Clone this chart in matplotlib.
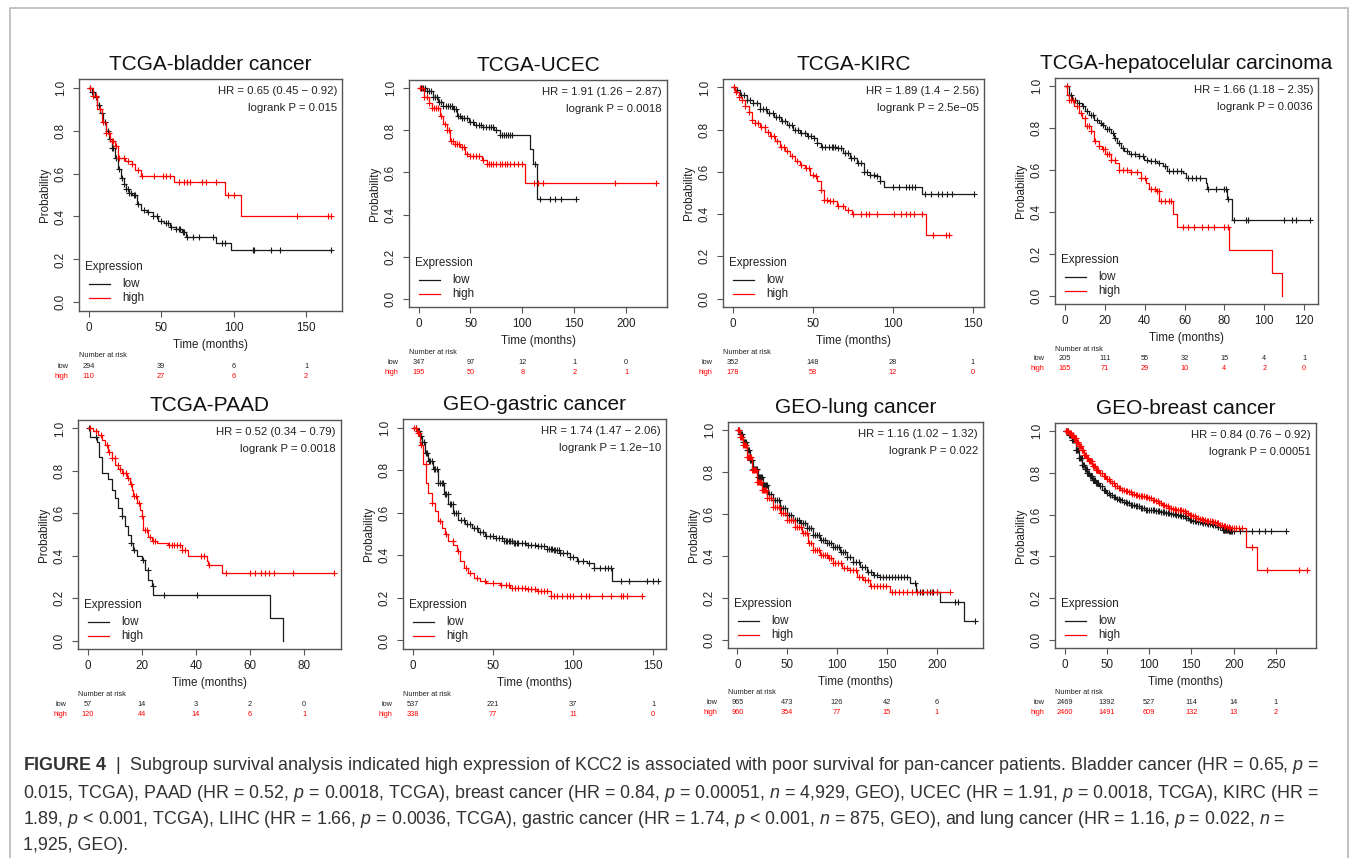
import numpy as np
import matplotlib
matplotlib.use('Agg')
import matplotlib.pyplot as plt
from matplotlib.transforms import blended_transform_factory
from matplotlib.lines import Line2D

plt.rcParams['font.family'] = ['Liberation Sans', 'DejaVu Sans']
plt.rcParams['mathtext.fontset'] = 'custom'
plt.rcParams['mathtext.rm'] = 'Liberation Sans'
plt.rcParams['mathtext.it'] = 'Liberation Sans:italic'
plt.rcParams['mathtext.bf'] = 'Liberation Sans:bold'

# ---------------- data ----------------
titles = ['TCGA-bladder cancer', 'TCGA-UCEC', 'TCGA-KIRC', 'TCGA-hepatocelular carcinoma',
          'TCGA-PAAD', 'GEO-gastric cancer', 'GEO-lung cancer', 'GEO-breast cancer']
hr_labels = ['HR = 0.65 (0.45 \u2212 0.92)', 'HR = 1.91 (1.26 \u2212 2.87)', 'HR = 1.89 (1.4 \u2212 2.56)',
             'HR = 1.66 (1.18 \u2212 2.35)', 'HR = 0.52 (0.34 \u2212 0.79)', 'HR = 1.74 (1.47 \u2212 2.06)',
             'HR = 1.16 (1.02 \u2212 1.32)', 'HR = 0.84 (0.76 \u2212 0.92)']
p_labels = ['logrank P = 0.015', 'logrank P = 0.0018', 'logrank P = 2.5e\u221205', 'logrank P = 0.0036',
            'logrank P = 0.0018', 'logrank P = 1.2e\u221210', 'logrank P = 0.022', 'logrank P = 0.00051']
t_max = [168, 230, 151, 122, 90, 152, 237, 286]

bladder_ticks = [0, 50, 100, 150]
ucec_ticks = [0, 50, 100, 150, 200]
kirc_ticks = [0, 50, 100, 150]
lihc_ticks = [0, 20, 40, 60, 80, 100, 120]
paad_ticks = [0, 20, 40, 60, 80]
gastric_ticks = [0, 50, 100, 150]
lung_ticks = [0, 50, 100, 150, 200]
breast_ticks = [0, 50, 100, 150, 200, 250]

# numbers at risk
bladder_risk_low = [294, 39, 6, 1]
bladder_risk_high = [110, 27, 6, 2]
ucec_risk_low = [347, 97, 12, 1, 0]
ucec_risk_high = [195, 50, 8, 2, 1]
kirc_risk_low = [352, 148, 28, 1]
kirc_risk_high = [178, 58, 12, 0]
lihc_risk_low = [205, 111, 55, 32, 15, 4, 1]
lihc_risk_high = [165, 71, 29, 10, 4, 2, 0]
paad_risk_low = [57, 14, 3, 2, 0]
paad_risk_high = [120, 44, 14, 6, 1]
gastric_risk_low = [537, 221, 37, 1]
gastric_risk_high = [338, 77, 11, 0]
lung_risk_low = [965, 473, 126, 42, 6]
lung_risk_high = [960, 354, 77, 15, 1]
breast_risk_low = [2469, 1392, 527, 114, 14, 1]
breast_risk_high = [2460, 1491, 609, 132, 13, 2]

# KM steps: time of drop / survival after drop, and censor times
bladder_low_t = [0, 2, 4, 6, 8, 10, 12, 14, 16, 18, 20, 22, 24, 26, 28, 30, 33, 36, 40, 44, 48, 52, 56, 60, 64, 67, 88, 98]
bladder_low_s = [1, .98, .955, .92, .88, .84, .80, .76, .72, .67, .62, .58, .55, .53, .51, .50, .46, .43, .42, .40, .38, .37, .35, .34, .33, .305, .275, .243]
bladder_low_c = [1, 2, 3, 5, 7, 9, 11, 13, 15, 16, 17, 19, 21, 23, 24, 26, 27, 28, 29, 31, 32, 34, 38, 41, 44, 47, 50, 53,
                 55, 57, 60, 62, 63, 65, 66, 68, 72, 76, 86, 92, 94, 113, 114, 126, 132, 167]
bladder_high_t = [0, 3, 6, 9, 12, 15, 18, 20.5, 25, 29.5, 32, 36, 59, 94, 105]
bladder_high_s = [1, .96, .90, .84, .79, .75, .73, .67, .66, .645, .615, .59, .56, .50, .40]
bladder_high_c = [1, 3, 5, 8, 10, 12, 14, 16, 17, 19, 21, 24, 27, 30, 34, 37, 45, 51, 53, 56, 62, 66, 68, 70, 78, 81, 88,
                  96, 100, 144, 165, 167]

ucec_low_t = [0, 8, 14, 19, 24, 33, 37, 41, 49, 53, 62, 73, 78, 107, 110, 113.6]
ucec_low_s = [1, .99, .96, .936, .916, .90, .87, .86, .84, .825, .817, .80, .777, .71, .64, .475]
ucec_low_c = [2, 4, 6, 8, 10, 12, 14, 16, 18, 20, 22, 24, 26, 28, 30, 32, 34, 36, 38, 40, 42, 44, 47, 50, 52, 55, 58, 60,
              62, 65, 68, 70, 72, 75, 78, 80, 82, 84, 86, 88, 90, 112, 117, 127, 131, 137, 152]
ucec_high_t = [0, 5, 9.6, 12.8, 21, 24, 27, 30.4, 33.6, 40, 45, 49.6, 61, 65.6, 102.4]
ucec_high_s = [1, .96, .93, .905, .87, .83, .80, .75, .735, .72, .69, .68, .66, .64, .55]
ucec_high_c = [1, 3, 5, 8, 10, 13, 15, 17, 19, 22, 25, 27, 29, 31, 33, 35, 37, 39, 42, 44, 47, 50, 52, 55, 58, 62, 66, 68,
               70, 72, 75, 78, 80, 83, 85, 88, 92, 96, 100, 111, 115, 120, 189, 229]

kirc_low_t = [0, 1.7, 4.8, 9, 13, 17, 21.5, 25.6, 30, 34, 38, 42, 46.5, 50.6, 52.7, 55, 65, 69, 73.5, 77.7, 82, 86, 90, 92, 94.4, 118.3]
kirc_low_s = [1, .99, .965, .94, .926, .90, .88, .86, .84, .82, .80, .784, .768, .76, .737, .72, .713, .69, .666, .642, .60, .587, .58, .555, .53, .495]
kirc_low_c = [1, 3, 5, 7, 9, 11, 13, 15, 17, 19, 21, 23, 25, 27, 29, 31, 33, 35, 37, 39, 41, 43, 45, 47, 49, 51, 53, 56,
              58, 60, 62, 63, 64, 66, 68, 70, 72, 74, 76, 78, 80, 82, 84, 86, 88, 90, 92, 100, 104, 108, 110, 112, 114,
              120, 124, 128, 131, 134, 137, 151]
kirc_high_t = [0, 1.7, 3.75, 5.8, 8, 10, 12, 14, 17.3, 20.4, 23.5, 26.7, 29.8, 33, 36, 39, 42.3, 45.4, 48.5, 51.7, 52.7,
               55, 57, 60, 65, 70.4, 74.6, 121]
kirc_high_s = [1, .98, .957, .94, .91, .886, .847, .83, .815, .79, .768, .744, .72, .697, .673, .65, .634, .618, .587, .58,
               .555, .516, .468, .46, .437, .42, .40, .30]
kirc_high_c = [1, 2, 4, 6, 8, 10, 12, 14, 16, 18, 20, 22, 24, 26, 28, 30, 32, 34, 37, 40, 43, 46, 48, 50, 52, 55, 57, 59,
               61, 63, 66, 69, 72, 75, 80, 83, 85, 90, 101, 105, 108, 111, 113, 118, 125, 133, 135]

lihc_low_t = [0, 2, 3.7, 6.2, 8.7, 10.4, 12, 14.6, 17, 18.7, 20.4, 23, 24.6, 26.3, 28, 29.6, 32, 37, 39.7, 42, 46.4, 49,
              51.4, 59, 60.6, 70.6, 71.5, 81.5, 84]
lihc_low_s = [1, .96, .937, .92, .905, .88, .865, .84, .825, .817, .794, .778, .754, .73, .706, .69, .675, .667, .65, .643,
              .635, .62, .595, .587, .563, .54, .51, .46, .36]
lihc_low_c = [1, 2, 3, 5, 7, 9, 11, 13, 14, 16, 18, 19, 21, 22, 24, 25, 27, 29, 31, 33, 35, 37, 39, 41, 43, 45, 47, 50,
              52, 54, 56, 58, 62, 64, 66, 68, 72, 76, 80, 81, 82, 85, 91, 92, 110, 114, 116, 123]
lihc_high_t = [0, 1.2, 2, 4.5, 7, 8.7, 10.4, 13, 14.6, 17, 18.7, 20.4, 23, 25.4, 27, 33, 38, 40.5, 42, 45.5, 47.2, 54,
               56.4, 82.3, 104, 108.8]
lihc_high_s = [1, .96, .937, .905, .873, .85, .81, .786, .738, .714, .70, .675, .65, .635, .60, .59, .56, .537, .508, .50,
               .452, .39, .33, .22, .11, 0]
lihc_high_c = [1, 2, 3, 4, 6, 8, 10, 11, 12, 13, 15, 17, 19, 20, 21, 22, 23, 25, 27, 29, 31, 33, 36, 38, 40, 43, 45, 46,
               47, 48, 50, 52, 53, 59, 62, 65, 69, 72, 75, 80, 82]

paad_low_t = [0, 0.9, 3.3, 4.3, 5.2, 7.6, 8.9, 10.1, 11.3, 12.6, 13.8, 15, 15.9, 16.9, 18.1, 20, 21.2, 22.4, 23.7, 24.3, 67.2, 72.1]
paad_low_s = [1, .96, .937, .867, .79, .76, .71, .67, .624, .585, .538, .498, .46, .428, .397, .38, .334, .287, .255, .216, .108, 0]
paad_low_c = [0.5, 3, 12.8, 15.9, 17, 20.5, 22.3, 24, 28, 40.5]
paad_high_t = [0, 2.1, 3.9, 5.2, 6.4, 7.6, 8.9, 10.1, 11.3, 12.6, 14.4, 15.7, 16.3, 16.9, 18.1, 19.4, 20, 20.6, 22.4, 23.7,
               25.5, 29.8, 34.8, 37.2, 44, 44.6, 49.6]
paad_high_s = [1, .99, .97, .945, .92, .89, .86, .83, .81, .79, .765, .74, .71, .68, .647, .616, .585, .52, .49, .467, .46,
               .45, .428, .397, .373, .357, .318]
paad_high_c = [1, 3, 5, 7, 8, 9, 10, 11, 12, 13, 14, 15, 16, 17, 18, 19, 20, 21, 22, 23, 24, 25, 30, 31, 32, 33, 34, 35,
               36, 42, 43, 45, 51, 60, 62, 64, 65.5, 67, 69, 76, 91]

gastric_low_t = [0, 2.5, 4.6, 5.6, 7.7, 9.8, 12.9, 16, 19.2, 22.3, 25.4, 28.5, 32.7, 36.9, 41, 45.2, 50.4, 56.7, 63, 71,
                 77.5, 83.7, 88, 92, 98, 102.5, 108.7, 113, 124.4]
gastric_low_s = [1, .985, .96, .93, .88, .843, .804, .74, .687, .64, .60, .567, .545, .53, .51, .49, .48, .467, .458, .45,
                 .444, .43, .425, .41, .39, .373, .365, .34, .277]
gastric_low_c = [2, 3, 4, 5, 6, 7, 8, 9, 10, 11, 12, 13, 14, 15, 16, 17, 18, 19, 20, 21, 22, 23, 24, 25, 26, 27, 28, 30,
                 32, 34, 36, 38, 40, 42, 44, 46, 48, 50, 52, 54, 56, 57, 58, 59, 60, 61, 62, 63, 64, 65, 66, 68, 70, 72,
                 74, 76, 78, 80, 82, 84, 85, 86, 87, 88, 89, 90, 91, 92, 94, 96, 98, 100, 103, 106, 110, 113, 117, 120,
                 122, 124, 130, 135, 146, 150, 153]
gastric_high_t = [0, 2.5, 4.6, 6.7, 8.3, 9.8, 11.9, 14, 16, 18.1, 20.2, 22.3, 25.4, 27.5, 29.6, 31.7, 34.8, 38.5, 42, 46,
                  54.6, 60.8, 71, 77.5, 86]
gastric_high_s = [1, .976, .92, .83, .74, .694, .647, .607, .56, .53, .50, .467, .45, .42, .373, .342, .318, .295, .279, .27,
                  .26, .248, .24, .232, .208]
gastric_high_c = [1, 2, 3, 4, 5, 8, 12, 17, 21, 25, 28, 33, 36, 40, 45, 50, 55, 58, 60, 62, 64, 66, 68, 70, 72, 74, 76, 78,
                  80, 82, 84, 86, 88, 90, 93, 96, 98, 100, 105, 108, 110, 118, 124, 130, 131, 134, 143]

lung_low_t = [0, 2.7, 6, 9.4, 12.7, 16, 21, 26, 31, 36, 42.8, 49.5, 56, 63, 69.6, 76, 83, 89.6, 96, 103, 110, 116, 123,
              130, 136.5, 143, 173, 179, 203, 227]
lung_low_s = [1, .984, .944, .905, .857, .817, .778, .738, .698, .667, .627, .595, .571, .556, .532, .50, .476, .46, .444,
              .42, .397, .373, .349, .325, .31, .30, .27, .229, .18, .09]
lung_low_c = [1, 2, 3, 4, 5, 6, 7, 8, 9, 10, 11, 12, 13, 14, 15, 16, 17, 18, 19, 20, 21, 22, 23, 24, 25, 26, 27, 28, 29,
              30, 32, 34, 36, 38, 40, 42, 44, 46, 48, 50, 52, 54, 56, 58, 60, 62, 64, 66, 68, 70, 72, 74, 76, 78, 80, 82,
              84, 86, 88, 90, 92, 94, 96, 98, 100, 102, 104, 106, 108, 110, 113, 116, 119, 122, 125, 128, 131, 134, 137,
              140, 143, 146, 149, 152, 155, 158, 161, 164, 167, 170, 178, 180, 183, 186, 190, 193, 196, 200, 218, 221, 238]
lung_high_t = [0, 2.7, 6, 9.4, 14.4, 19.4, 24.4, 29.4, 36, 42.8, 49.5, 58, 64.5, 71, 76, 83, 91, 96, 104.7, 113, 119.7,
               126.4, 133, 153]
lung_high_s = [1, .97, .93, .873, .81, .754, .714, .675, .635, .603, .571, .54, .508, .46, .43, .405, .389, .365, .34, .333,
               .30, .286, .254, .227]
lung_high_c = [1, 2, 3, 4, 5, 6, 7, 8, 9, 10, 11, 12, 13, 14, 15, 16, 17, 18, 19, 20, 21, 22, 23, 24, 25, 26, 27, 28, 29,
               30, 32, 34, 36, 38, 40, 42, 44, 46, 48, 50, 52, 54, 56, 58, 60, 62, 64, 66, 68, 70, 72, 74, 76, 78, 80, 82,
               84, 86, 88, 90, 92, 94, 96, 98, 101, 104, 107, 110, 113, 116, 119, 122, 125, 128, 131, 134, 137, 140, 143,
               146, 149, 155, 158, 162, 166, 170, 175, 180, 185, 190, 195, 200, 213]

breast_low_t = [0, 5, 9, 13, 17, 21, 24, 27, 30, 32.8, 36.5, 40.7, 44.5, 48.6, 52.5, 56.5, 60.5, 64.4, 68.3, 72.3, 78, 84,
                90, 96, 102, 107.8, 113.7, 119.7, 125.5, 131.5, 137, 143, 147, 151, 157, 163, 169, 175, 181, 187, 195]
breast_low_s = [1, .984, .96, .912, .872, .84, .82, .80, .784, .768, .752, .736, .72, .704, .694, .685, .677, .669, .662,
                .656, .648, .64, .632, .624, .62, .616, .612, .608, .604, .60, .592, .584, .576, .568, .564, .56, .556,
                .552, .54, .528, .52]
breast_low_c = [1, 2, 3, 4, 5, 6, 7, 8, 9, 10, 11, 12, 13, 14, 15, 16, 17, 18, 19, 20, 21, 22, 23, 24, 25, 26, 27, 28, 29,
                30, 31, 32, 33, 34, 35, 36, 37, 38, 39, 40, 42, 44, 46, 48, 50, 52, 54, 56, 58, 60, 62, 64, 66, 68, 70, 72,
                74, 76, 78, 80, 82, 84, 86, 88, 90, 92, 94, 96, 98, 100, 102, 104, 106, 108, 110, 112, 114, 116, 118, 120,
                122, 124, 126, 128, 130, 132, 134, 136, 138, 140, 142, 144, 146, 148, 150, 152, 154, 156, 158, 160, 162,
                164, 166, 168, 170, 172, 174, 176, 178, 180, 182, 184, 186, 187, 188, 189, 190, 191, 192, 193, 194, 195,
                196, 197, 198, 200, 208, 215, 222, 230, 237, 244, 262]
breast_high_t = [0, 5, 8, 11, 14, 17, 20, 23, 26, 29, 32.8, 36.7, 40.6, 44.6, 48.5, 52.5, 56, 60, 64, 68, 72, 76, 80, 84,
                 88, 92, 96, 100, 104, 108, 112, 115.7, 119.6, 123.6, 127.5, 131.5, 135, 139, 143, 147, 151, 155, 159,
                 163, 167, 171, 175, 179, 183, 187, 191, 195, 215, 228]
breast_high_s = [1, .992, .98, .968, .948, .928, .908, .888, .872, .856, .836, .816, .8, .784, .772, .76, .75, .739, .73,
                 .72, .713, .707, .701, .696, .692, .688, .684, .68, .672, .664, .656, .648, .64, .632, .628, .624, .62,
                 .616, .608, .60, .592, .584, .58, .576, .572, .568, .564, .56, .552, .544, .54, .536, .445, .333]
breast_high_c = [1, 2, 3, 4, 5, 6, 7, 8, 9, 10, 11, 12, 13, 14, 15, 16, 17, 18, 19, 20, 21, 22, 23, 24, 25, 26, 27, 28,
                 29, 30, 31, 32, 33, 34, 35, 36, 37, 38, 39, 40, 42, 44, 46, 48, 50, 52, 54, 56, 58, 60, 62, 64, 66, 68,
                 70, 72, 74, 76, 78, 80, 82, 84, 86, 88, 90, 92, 94, 96, 98, 100, 102, 104, 106, 108, 110, 112, 114, 116,
                 118, 120, 122, 124, 126, 128, 130, 132, 134, 136, 138, 140, 142, 144, 146, 148, 150, 152, 154, 156, 158,
                 160, 162, 164, 166, 168, 170, 172, 174, 176, 178, 180, 182, 184, 186, 188, 190, 192, 194, 196, 198, 200,
                 203, 206, 210, 222, 240, 277, 287]

caption_lines = [
    r'$\bf{FIGURE\ 4}$  |  Subgroup survival analysis indicated high expression of KCC2 is associated with poor survival for pan-cancer patients. Bladder cancer (HR = 0.65, $p$ =',
    r'0.015, TCGA), PAAD (HR = 0.52, $p$ = 0.0018, TCGA), breast cancer (HR = 0.84, $p$ = 0.00051, $n$ = 4,929, GEO), UCEC (HR = 1.91, $p$ = 0.0018, TCGA), KIRC (HR =',
    r'1.89, $p$ < 0.001, TCGA), LIHC (HR = 1.66, $p$ = 0.0036, TCGA), gastric cancer (HR = 1.74, $p$ < 0.001, $n$ = 875, GEO), and lung cancer (HR = 1.16, $p$ = 0.022, $n$ =',
    r'1,925, GEO).',
]

# ---------------- layout (pixels) ----------------
W, H = 1355, 858
boxes = [(79, 79, 342, 311), (409, 80, 667, 307), (723, 79, 984, 307), (1055, 78, 1318, 304),
         (78, 420, 341, 649), (403, 419, 666, 649), (728, 422, 983, 648), (1055, 423, 1316, 648)]

panels = [
    (bladder_ticks, (bladder_low_t, bladder_low_s, bladder_low_c), (bladder_high_t, bladder_high_s, bladder_high_c),
     bladder_risk_low, bladder_risk_high),
    (ucec_ticks, (ucec_low_t, ucec_low_s, ucec_low_c), (ucec_high_t, ucec_high_s, ucec_high_c),
     ucec_risk_low, ucec_risk_high),
    (kirc_ticks, (kirc_low_t, kirc_low_s, kirc_low_c), (kirc_high_t, kirc_high_s, kirc_high_c),
     kirc_risk_low, kirc_risk_high),
    (lihc_ticks, (lihc_low_t, lihc_low_s, lihc_low_c), (lihc_high_t, lihc_high_s, lihc_high_c),
     lihc_risk_low, lihc_risk_high),
    (paad_ticks, (paad_low_t, paad_low_s, paad_low_c), (paad_high_t, paad_high_s, paad_high_c),
     paad_risk_low, paad_risk_high),
    (gastric_ticks, (gastric_low_t, gastric_low_s, gastric_low_c), (gastric_high_t, gastric_high_s, gastric_high_c),
     gastric_risk_low, gastric_risk_high),
    (lung_ticks, (lung_low_t, lung_low_s, lung_low_c), (lung_high_t, lung_high_s, lung_high_c),
     lung_risk_low, lung_risk_high),
    (breast_ticks, (breast_low_t, breast_low_s, breast_low_c), (breast_high_t, breast_high_s, breast_high_c),
     breast_risk_low, breast_risk_high),
]

LOW_C = '#1a1a1a'
HIGH_C = '#ff0000'
AX_C = '#555555'


def fx(x):
    return x / W


def fy(y):
    return 1 - y / H


fig = plt.figure(figsize=(W / 100, H / 100), dpi=100)

# grey frame around the figure
fig.add_artist(Line2D([fx(10), fx(10), fx(1348), fx(1348)], [fy(862), fy(8), fy(8), fy(862)],
                      transform=fig.transFigure, color='#bdbdbd', lw=1.3))


def draw_km(ax, t, s, cens, color):
    t = np.asarray(t, float)
    s = np.asarray(s, float)
    end = max(max(cens), t[-1])
    ax.step(np.append(t, end), np.append(s, s[-1]), where='post', color=color, lw=0.9)
    c = np.asarray(cens, float)
    cs = s[np.searchsorted(t, c, side='right') - 1]
    ax.plot(c, cs, '+', color=color, ms=5, mew=0.8)


for i, (ticks, low, high, rlow, rhigh) in enumerate(panels):
    l, t, r, b = boxes[i]
    ax = fig.add_axes([fx(l), fy(b), fx(r) - fx(l), (b - t) / H])
    tm = t_max[i]
    draw_km(ax, *low, LOW_C)
    draw_km(ax, *high, HIGH_C)
    ax.set_xlim(-0.04 * tm, 1.04 * tm)
    ax.set_ylim(-0.04, 1.04)
    ax.set_xticks(ticks)
    ax.set_xticklabels([str(v) for v in ticks])
    ax.set_yticks([0, 0.2, 0.4, 0.6, 0.8, 1.0])
    ax.set_yticklabels(['0.0', '0.2', '0.4', '0.6', '0.8', '1.0'], rotation=90, va='center')
    ax.tick_params(direction='out', length=4.5, width=0.8, color=AX_C, labelsize=8.4,
                   labelcolor='#222222')
    ax.tick_params(axis='x', pad=3.2)
    ax.tick_params(axis='y', pad=4.2)
    for sp in ax.spines.values():
        sp.set_color(AX_C)
        sp.set_linewidth(1.0)

    ax.set_title(titles[i], fontsize=15, pad=6.5, color='#111111')
    fig.text(fx(r - 5), fy(t + 12), hr_labels[i], ha='right', va='center', fontsize=8.2, color='#222222')
    fig.text(fx(r - 5), fy(t + 29), p_labels[i], ha='right', va='center', fontsize=8.2, color='#222222')

    fig.text(fx(l - 34), fy((t + b) / 2), 'Probability', rotation=90, ha='center', va='center',
             fontsize=8.4, color='#222222')
    fig.text(fx((l + r) / 2), fy(b + 34), 'Time (months)', ha='center', va='center',
             fontsize=8.4, color='#222222')

    # legend
    fig.text(fx(l + 6), fy(b - 44), 'Expression', ha='left', va='center', fontsize=8.4, color='#222222')
    for yy, lab, col in [(b - 27, 'low', LOW_C), (b - 13, 'high', HIGH_C)]:
        fig.add_artist(Line2D([fx(l + 10), fx(l + 31)], [fy(yy), fy(yy)], transform=fig.transFigure,
                              color=col, lw=0.9))
        fig.text(fx(l + 43), fy(yy), lab, ha='left', va='center', fontsize=8.4, color='#222222')

    # number at risk table
    tr = blended_transform_factory(ax.transData, fig.transFigure)
    fig.text(fx(l), fy(b + 45), 'Number at risk', ha='left', va='center', fontsize=5.3, color='#222222')
    fig.text(fx(l - 11), fy(b + 55), 'low', ha='right', va='center', fontsize=5.3, color='#222222')
    fig.text(fx(l - 11), fy(b + 65), 'high', ha='right', va='center', fontsize=5.3, color=HIGH_C)
    for xv, n1, n2 in zip(ticks, rlow, rhigh):
        ax.text(xv, fy(b + 55), str(n1), transform=tr, ha='center', va='center', fontsize=5.3,
                color='#222222', clip_on=False)
        ax.text(xv, fy(b + 65), str(n2), transform=tr, ha='center', va='center', fontsize=5.3,
                color=HIGH_C, clip_on=False)

# caption
for line, yy in zip(caption_lines, [766, 793, 819, 845]):
    fig.text(fx(23), fy(yy), line, ha='left', va='center', fontsize=12.9, color='#333333')

fig.savefig('out.png', dpi=100)
